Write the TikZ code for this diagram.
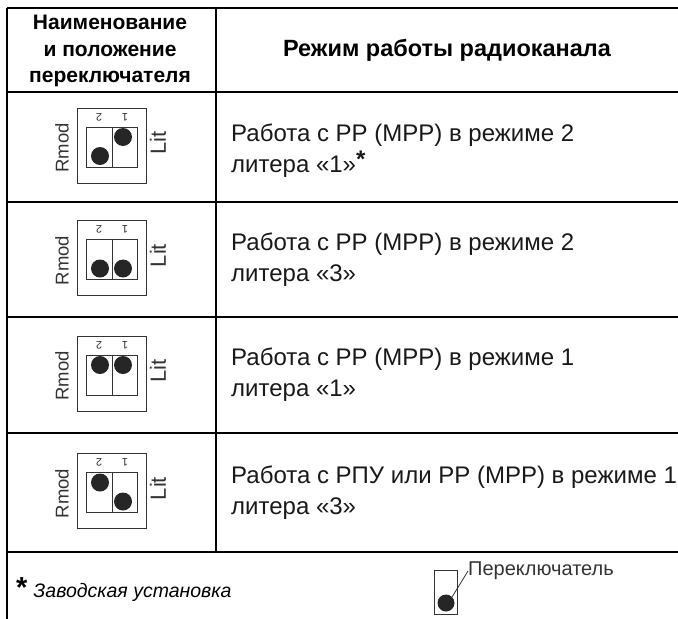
\documentclass[tikz,border=0pt]{standalone}
\usepackage{fontspec}
\setmainfont{Liberation Sans}
\usepackage{tikz}
\usetikzlibrary{positioning}
\tikzstyle{tableline}=[line width=1.8pt,black]
\tikzstyle{head}=[font=\fontsize{23.5}{26.5}\selectfont\bfseries,align=center,inner sep=0pt]
\tikzstyle{mode}=[font=\fontsize{24}{31}\selectfont,align=left,anchor=west,inner sep=0pt,text=black!90]
\tikzstyle{swbox}=[rectangle,draw=black!80,line width=1pt,inner sep=0pt]
\tikzstyle{knob}=[circle,fill=black!85,minimum size=18pt,inner sep=0pt]
\tikzstyle{tag}=[font=\fontsize{18.5}{18.5}\selectfont,text=black!80,inner sep=0pt,rotate=90]
\tikzstyle{digit}=[font=\fontsize{11}{11}\selectfont,text=black!80,inner sep=0pt,rotate=180]

\begin{document}
\begin{tikzpicture}[x=1pt,y=-1pt]
    \useasboundingbox (0,0) rectangle (678,619);

    % table
    \draw [tableline] (7,8) -- (678,8);
    \draw [tableline] (7,92) -- (678,92);
    \draw [tableline] (7,202) -- (678,202);
    \draw [tableline] (7,317) -- (678,317);
    \draw [tableline] (7,433) -- (678,433);
    \draw [tableline] (7,552) -- (678,552);
    \draw [tableline] (7,8) -- (7,619);
    \draw [tableline] (216,8) -- (216,552);

    \node (h1) [head,font=\fontsize{21}{26.5}\selectfont\bfseries] at (110,51) {Наименование\\и положение\\переключателя};
    \node (h2) [head] at (447,50) {Режим работы радиоканала};

    % switches
    \foreach \n/\cy/\l/\r in {a/145.5/10.5/-8.5, b/258/10.5/10.5, c/373.5/-8.5/-8.5, d/491/-8.5/10.5}{
        \node (\n box) [swbox,minimum width=69pt,minimum height=75pt] at (112,\cy) {};
        \node (\n cell) [swbox,minimum width=51pt,minimum height=40pt] at (112,\cy+1.5) {};
        \draw [black!80,line width=1pt] (\n cell.north) -- (\n cell.south);
        \node (\n l) [knob] at (100,\cy+\l) {};
        \node (\n r) [knob] at (123,\cy+\r) {};
        \node (\n two) [digit] at (99,\cy-28.5) {2};
        \node (\n one) [digit] at (125,\cy-28.5) {1};
        \node (\n rmod) [tag] at (62,\cy+2.5) {Rmod};
        \node (\n lit) [tag,font=\fontsize{22}{22}\selectfont] at (158,\cy-2.5) {Lit};
    }

    \node (m1) [mode] at (231,151) {Работа с РР (МРР) в режиме 2\\литера «1»\raisebox{5pt}{\bfseries *}};
    \node (m2) [mode] at (231,259.5) {Работа с РР (МРР) в режиме 2\\литера «3»};
    \node (m3) [mode] at (231,375) {Работа с РР (МРР) в режиме 1\\литера «1»};
    \node (m4) [mode] at (231,492.5) {Работа с РПУ или РР (МРР) в режиме 1\\литера «3»};

    % footnote
    \node (note) [anchor=base west,inner sep=0pt] at (16,597) {{\fontsize{29}{29}\selectfont\bfseries *}\hspace{6pt}{\fontsize{19.5}{24}\selectfont\itshape Заводская установка}};
    \node (fbox) [swbox,minimum width=23pt,minimum height=44pt] at (446,592) {};
    \node (fdot) [knob,minimum size=17pt] at (446,603) {};
    \node (flabel) [anchor=west,inner sep=0pt,font=\fontsize{20}{20}\selectfont,text=black!80] at (468,571) {Переключатель};
    \draw [black!80,line width=0.8pt] (fdot.north east) -- (flabel.west);

\end{tikzpicture}
\end{document}
